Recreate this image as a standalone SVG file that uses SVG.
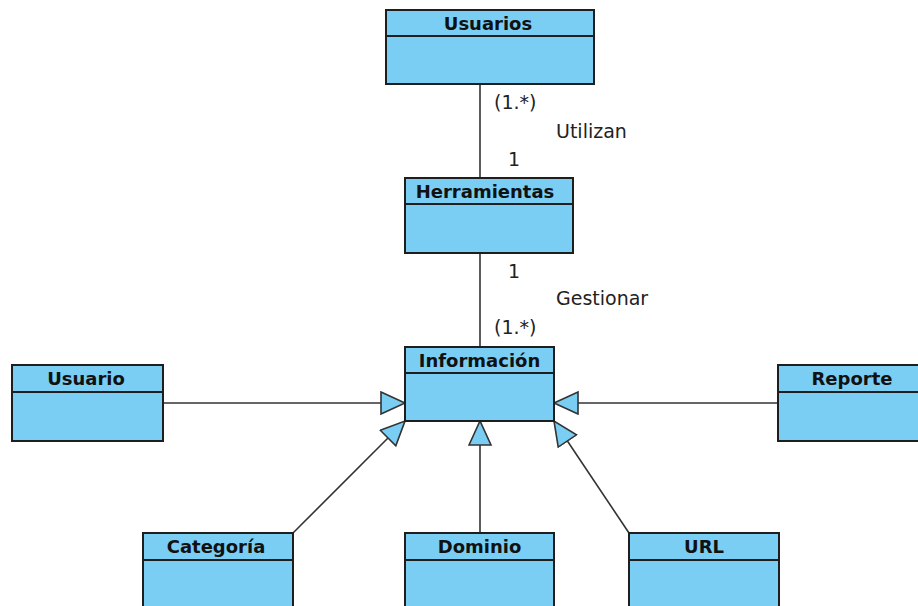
<svg xmlns="http://www.w3.org/2000/svg" width="918" height="606" viewBox="0 0 918 606">
  <style>
    .box { fill: #7acef4; stroke: #1e1e1e; stroke-width: 2; }
    .div { stroke: #1e1e1e; stroke-width: 2; }
    .title { font-family: "DejaVu Sans", "Liberation Sans", sans-serif; font-size: 18px; font-weight: bold; fill: #111; text-anchor: middle; }
    .lbl { font-family: "DejaVu Sans", "Liberation Sans", sans-serif; font-size: 19px; fill: #222; }
    .conn { stroke: #333; stroke-width: 1.6; fill: none; }
    .gen { marker-end: url(#tri); }
  </style>
  <defs>
    <marker id="tri" markerUnits="userSpaceOnUse" markerWidth="28" markerHeight="26" refX="25" refY="12" orient="auto">
      <path d="M1,1 L25,12 L1,23 Z" fill="#7acef4" stroke="#333" stroke-width="1.6"/>
    </marker>
  </defs>

  <g id="connectors">
    <line class="conn" x1="480" y1="84" x2="480" y2="178"/>
    <line class="conn" x1="480" y1="253" x2="480" y2="347"/>
    <line class="conn gen" x1="163" y1="403" x2="405" y2="403"/>
    <line class="conn gen" x1="778" y1="403" x2="554" y2="403"/>
    <line class="conn gen" x1="293" y1="533" x2="405" y2="421"/>
    <line class="conn gen" x1="480" y1="533" x2="480" y2="421"/>
    <line class="conn gen" x1="629" y1="533" x2="554" y2="421"/>
    <text class="lbl" x="494" y="109">(1.*)</text>
    <text class="lbl" x="556" y="138">Utilizan</text>
    <text class="lbl" x="508" y="166">1</text>
    <text class="lbl" x="508" y="278">1</text>
    <text class="lbl" x="556" y="305">Gestionar</text>
    <text class="lbl" x="494" y="334">(1.*)</text>
  </g>

  <g id="usuarios">
    <rect class="box" x="386" y="10" width="208" height="74"/>
    <line class="div" x1="386" y1="36" x2="594" y2="36"/>
    <text class="title" x="488" y="30">Usuarios</text>
  </g>
  <g id="herramientas">
    <rect class="box" x="405" y="178" width="168" height="75"/>
    <line class="div" x1="405" y1="204" x2="573" y2="204"/>
    <text class="title" x="485" y="198">Herramientas</text>
  </g>
  <g id="informacion">
    <rect class="box" x="405" y="347" width="149" height="74"/>
    <line class="div" x1="405" y1="373" x2="554" y2="373"/>
    <text class="title" x="479.5" y="367">Información</text>
  </g>
  <g id="usuario">
    <rect class="box" x="12" y="365" width="151" height="76"/>
    <line class="div" x1="12" y1="392" x2="163" y2="392"/>
    <text class="title" x="86" y="385">Usuario</text>
  </g>
  <g id="reporte">
    <rect class="box" x="778" y="365" width="150" height="76"/>
    <line class="div" x1="778" y1="392" x2="928" y2="392"/>
    <text class="title" x="852" y="385">Reporte</text>
  </g>
  <g id="categoria">
    <rect class="box" x="143" y="533" width="150" height="80"/>
    <line class="div" x1="143" y1="560" x2="293" y2="560"/>
    <text class="title" x="216" y="553">Categoría</text>
  </g>
  <g id="dominio">
    <rect class="box" x="405" y="533" width="149" height="80"/>
    <line class="div" x1="405" y1="560" x2="554" y2="560"/>
    <text class="title" x="479.5" y="553">Dominio</text>
  </g>
  <g id="url">
    <rect class="box" x="629" y="533" width="150" height="80"/>
    <line class="div" x1="629" y1="560" x2="779" y2="560"/>
    <text class="title" x="704" y="553">URL</text>
  </g>
</svg>
